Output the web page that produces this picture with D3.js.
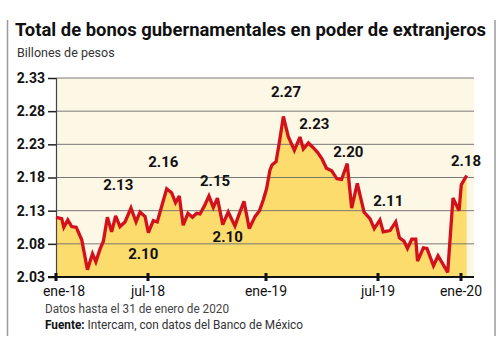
<!DOCTYPE html>
<html lang="es">
<head>
<meta charset="utf-8">
<title>Bonos gubernamentales en poder de extranjeros</title>
<script src="https://cdn.jsdelivr.net/npm/d3@7"></script>
<style>
  body { margin: 0; background: #fff; }
  svg { display: block; font-family: Roboto, "Open Sans", sans-serif; }
</style>
</head>
<body>
<div id="chart"></div>
<script>
// meses desde enero 2018 (semanal, aprox.) y saldo en billones de pesos
var meses = [0.0, 0.37, 0.51, 0.77, 1.02, 1.32, 1.68, 2.05, 2.38, 2.60, 2.87, 3.09, 3.35, 3.63, 3.89,
  4.17, 4.50, 4.89, 5.22, 5.48, 5.81, 6.02, 6.27, 6.47, 6.70, 6.95, 7.20, 7.40, 7.59, 7.79,
  8.03, 8.26, 8.47, 8.64, 8.85, 9.10, 9.32, 9.53, 9.80, 10.08, 10.42, 10.65, 10.88, 11.15, 11.44,
  11.67, 11.86, 12.03, 12.21, 12.32, 12.54, 12.71, 12.93, 13.19, 13.52, 13.82, 14.00, 14.27, 14.49,
  14.76, 15.00, 15.24, 15.52, 15.80, 16.05, 16.35, 16.59, 16.89, 17.25, 17.57, 17.80, 18.14, 18.38,
  18.87, 19.28, 19.55, 19.88, 20.13, 20.44, 20.73, 20.86, 21.28, 21.54, 22.01, 22.34, 23.04, 23.42,
  23.86, 24.02, 24.41];
var valores = [2.120, 2.118, 2.105, 2.116, 2.106, 2.105, 2.086, 2.041, 2.065, 2.053, 2.072, 2.084, 2.120, 2.098, 2.122,
  2.106, 2.113, 2.134, 2.113, 2.128, 2.121, 2.097, 2.115, 2.113, 2.137, 2.163, 2.157, 2.142, 2.152, 2.108,
  2.126, 2.120, 2.126, 2.125, 2.136, 2.152, 2.135, 2.149, 2.109, 2.128, 2.107, 2.126, 2.144, 2.103, 2.121,
  2.130, 2.146, 2.163, 2.191, 2.199, 2.204, 2.232, 2.272, 2.242, 2.221, 2.241, 2.223, 2.232, 2.226,
  2.218, 2.208, 2.194, 2.190, 2.178, 2.177, 2.201, 2.134, 2.171, 2.128, 2.118, 2.103, 2.116, 2.098,
  2.100, 2.113, 2.089, 2.084, 2.073, 2.087, 2.087, 2.054, 2.074, 2.073, 2.047, 2.062, 2.037, 2.149,
  2.130, 2.169, 2.183];

var yTicks = [2.03, 2.08, 2.13, 2.18, 2.23, 2.28, 2.33];
var xTickMeses = [0, 6, 12, 18, 24];
var xTickLabels = ["ene-18", "jul-18", "ene-19", "jul-19", "ene-20"];

// etiquetas de valores destacados (mes, nivel donde va el texto)
var etiquetas = ["2.13", "2.16", "2.10", "2.15", "2.10", "2.27", "2.23", "2.20", "2.11", "2.18"];
var etiquetaMes = [4.06, 6.78, 5.69, 9.41, 10.05, 13.07, 14.59, 16.41, 18.74, 24.36];
var etiquetaNivel = [2.170, 2.204, 2.066, 2.175, 2.091, 2.309, 2.262, 2.219, 2.146, 2.206];

var width = 500, height = 362;
var plotLeft = 56, plotRight = 474, plotTop = 78, plotBottom = 277;

var datos = meses.map(function (m, i) { return { m: m, v: valores[i] }; });

var svg = d3.select("#chart").append("svg")
  .attr("width", width)
  .attr("height", height);

// el eje x del original no es lineal en el tiempo
var x = d3.scaleLinear()
  .domain(xTickMeses)
  .range([56, 148, 266, 378, 461]);

var y = d3.scaleLinear()
  .domain([2.03, 2.33])
  .range([plotBottom, plotTop]);

// marco
svg.append("line").attr("x1", 7.5).attr("x2", 7.5).attr("y1", 20).attr("y2", 336)
  .attr("stroke", "#9a9a9a").attr("stroke-width", 1.5);
svg.append("line").attr("x1", 495).attr("x2", 495).attr("y1", 20).attr("y2", 336)
  .attr("stroke", "#9a9a9a").attr("stroke-width", 1.5);

// titulos
svg.append("text")
  .attr("x", 15).attr("y", 36)
  .attr("font-size", 19).attr("font-weight", 700).attr("fill", "#111")
  .attr("textLength", 471).attr("lengthAdjust", "spacingAndGlyphs")
  .text("Total de bonos gubernamentales en poder de extranjeros");

svg.append("text")
  .attr("x", 17).attr("y", 57)
  .attr("font-size", 12.5).attr("fill", "#333")
  .text("Billones de pesos");

// fondo del área de trazado
svg.append("rect")
  .attr("x", plotLeft).attr("y", plotTop)
  .attr("width", plotRight - plotLeft).attr("height", plotBottom - plotTop)
  .attr("fill", "#fdf7e6");

// relleno
var area = d3.area()
  .x(function (d) { return x(d.m); })
  .y0(plotBottom)
  .y1(function (d) { return y(d.v); });

svg.append("path")
  .datum(datos)
  .attr("d", area)
  .attr("fill", "#fddc6e");

// rejilla
svg.append("g")
  .selectAll("line")
  .data(yTicks.slice(1))
  .join("line")
  .attr("x1", plotLeft).attr("x2", plotRight)
  .attr("y1", function (d) { return y(d); })
  .attr("y2", function (d) { return y(d); })
  .attr("stroke", "#6b6b6b").attr("stroke-width", 0.9);

// eje y
var yAxis = svg.append("g")
  .attr("transform", "translate(" + plotLeft + ",0)")
  .call(d3.axisLeft(y).tickValues(yTicks).tickFormat(d3.format(".2f")).tickSize(8).tickPadding(3));
yAxis.select(".domain").attr("stroke", "#444").attr("stroke-width", 1.2);
yAxis.selectAll(".tick line").attr("stroke", "#222").attr("stroke-width", 1.5);
yAxis.selectAll(".tick text")
  .attr("font-family", "Roboto, sans-serif")
  .attr("font-size", 14).attr("font-weight", 700).attr("fill", "#111");

// linea
var line = d3.line()
  .x(function (d) { return x(d.m); })
  .y(function (d) { return y(d.v); });

svg.append("path")
  .datum(datos)
  .attr("d", line)
  .attr("fill", "none")
  .attr("stroke", "#d3111d")
  .attr("stroke-width", 3.3)
  .attr("stroke-linejoin", "miter")
  .attr("stroke-miterlimit", 3);

// eje x
var xAxis = svg.append("g")
  .attr("transform", "translate(0," + plotBottom + ")");
xAxis.append("line")
  .attr("x1", 48).attr("x2", plotRight)
  .attr("stroke", "#111").attr("stroke-width", 2);
xAxis.selectAll(".tk")
  .data(xTickMeses)
  .join("line")
  .attr("class", "tk")
  .attr("x1", function (d) { return x(d); })
  .attr("x2", function (d) { return x(d); })
  .attr("y1", -4).attr("y2", 4)
  .attr("stroke", "#111").attr("stroke-width", 3);
xAxis.selectAll(".lbl")
  .data(xTickMeses)
  .join("text")
  .attr("class", "lbl")
  .attr("x", function (d, i) { return x(d) + (i === 0 ? 8 : 0); })
  .attr("y", 19)
  .attr("text-anchor", "middle")
  .attr("font-size", 14).attr("fill", "#111")
  .text(function (d, i) { return xTickLabels[i]; });

// etiquetas de valores
svg.append("g")
  .selectAll("text")
  .data(etiquetas)
  .join("text")
  .attr("x", function (d, i) { return x(etiquetaMes[i]); })
  .attr("y", function (d, i) { return y(etiquetaNivel[i]) + 5.5; })
  .attr("text-anchor", "middle")
  .attr("font-size", 15).attr("font-weight", 700).attr("fill", "#111")
  .text(function (d) { return d; });

// notas
svg.append("text")
  .attr("x", 45).attr("y", 313)
  .attr("font-size", 12.5).attr("fill", "#444")
  .attr("textLength", 184).attr("lengthAdjust", "spacingAndGlyphs")
  .text("Datos hasta el 31 de enero de 2020");

var fuente = svg.append("text")
  .attr("x", 45).attr("y", 329)
  .attr("font-size", 12.5).attr("fill", "#333")
  .attr("textLength", 258).attr("lengthAdjust", "spacingAndGlyphs");
fuente.append("tspan").attr("font-weight", 700).attr("fill", "#111").text("Fuente:");
fuente.append("tspan").text(" Intercam, con datos del Banco de México");
</script>
</body>
</html>
